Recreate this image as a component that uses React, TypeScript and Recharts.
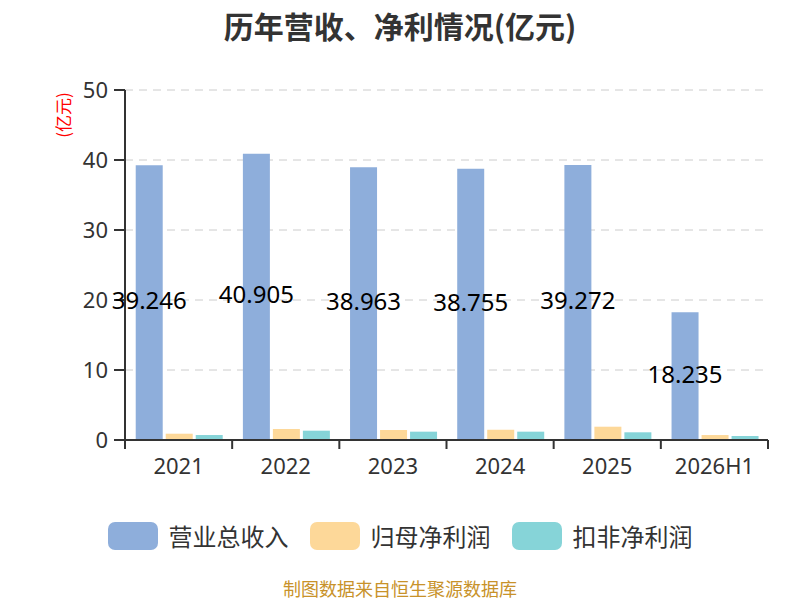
import { BarChart, Bar, XAxis, YAxis, CartesianGrid, Legend, LabelList } from 'recharts';

// ── Data ──────────────────────────────────────────────────────────────────────

const years = ['2021', '2022', '2023', '2024', '2025', '2026H1'];
const revenue = [39.246, 40.905, 38.963, 38.755, 39.272, 18.235];
const netProfit = [0.9, 1.57, 1.43, 1.48, 1.9, 0.71];
const deductedProfit = [0.71, 1.33, 1.19, 1.19, 1.1, 0.57];
const yTicks = [0, 10, 20, 30, 40, 50];

const seriesNames = ['营业总收入', '归母净利润', '扣非净利润'];
const seriesColors = ['#8eaedb', '#fdd899', '#86d4d8'];

const rows = years.map((y, i) => ({
  year: y,
  revenue: revenue[i],
  netProfit: netProfit[i],
  deductedProfit: deductedProfit[i],
}));

const FONT = '"Noto Sans", "Noto Sans CJK SC", sans-serif';
const CJK = '"Noto Sans CJK SC", sans-serif';

// ── Axis pieces ───────────────────────────────────────────────────────────────

function XTick(props: any) {
  const { x, y, payload, index } = props;
  const half = payload.offset ?? 0;
  const last = index === years.length - 1;
  return (
    <g>
      <line x1={x - half} y1={y - 8} x2={x - half} y2={y + 1} stroke="#333" strokeWidth={2} />
      {last && (
        <line x1={x + half} y1={y - 8} x2={x + half} y2={y + 1} stroke="#333" strokeWidth={2} />
      )}
      <text x={x} y={y + 26} textAnchor="middle" fontSize={22} fill="#333" fontFamily={FONT}>
        {payload.value}
      </text>
    </g>
  );
}

function UnitLabel(props: any) {
  const { viewBox } = props;
  const x = viewBox.x - 3;
  const y = viewBox.y + 25;
  return (
    <text
      x={x}
      y={y}
      transform={`rotate(-90 ${x} ${y})`}
      textAnchor="middle"
      dominantBaseline="central"
      fontSize={17}
      fill="#ff0000"
      fontFamily={CJK}
    >
      (亿元)
    </text>
  );
}

function LegendContent() {
  return (
    <div style={{ display: 'flex', justifyContent: 'center', fontFamily: CJK }}>
      {seriesNames.map((name, i) => (
        <div key={name} style={{ display: 'flex', alignItems: 'center', marginRight: i < 2 ? 21 : 0 }}>
          <div
            style={{
              width: 50,
              height: 28,
              borderRadius: 7,
              background: seriesColors[i],
              marginRight: 11,
            }}
          />
          <span style={{ fontSize: 24, color: '#333', lineHeight: '28px' }}>{name}</span>
        </div>
      ))}
    </div>
  );
}

// ── Chart ─────────────────────────────────────────────────────────────────────

export default function App() {
  return (
    <div
      style={{
        position: 'absolute',
        left: 0,
        top: 0,
        width: 800,
        height: 600,
        background: '#fff',
        fontFamily: CJK,
        overflow: 'hidden',
      }}
    >
      <div
        style={{
          position: 'absolute',
          top: 3,
          width: 800,
          textAlign: 'center',
          fontSize: 30,
          lineHeight: '44px',
          fontWeight: 'bold',
          color: '#333',
        }}
      >
        历年营收、净利情况(亿元)
      </div>

      <BarChart
        width={800}
        height={600}
        data={rows}
        margin={{ top: 90, right: 32, bottom: 130, left: 65 }}
        barCategoryGap="10%"
        barGap={3}
      >
        <CartesianGrid vertical={false} stroke="#ccc" strokeDasharray="8 6" />
        <XAxis
          dataKey="year"
          height={30}
          axisLine={{ stroke: '#333', strokeWidth: 2 }}
          tickLine={false}
          tick={<XTick />}
          interval={0}
        />
        <YAxis
          width={60}
          domain={[0, 50]}
          ticks={yTicks}
          axisLine={{ stroke: '#333', strokeWidth: 2 }}
          tickLine={{ stroke: '#333', strokeWidth: 2 }}
          tickSize={11}
          tickMargin={6}
          tick={{ fontSize: 22, fill: '#333', fontFamily: FONT }}
          label={<UnitLabel />}
        />
        <Legend
          layout="horizontal"
          verticalAlign="middle"
          align="center"
          content={<LegendContent />}
          wrapperStyle={{ position: 'absolute', top: 522, left: 0, width: 800 }}
        />
        <Bar dataKey="revenue" name={seriesNames[0]} fill={seriesColors[0]} isAnimationActive={false}>
          <LabelList
            dataKey="revenue"
            position="center"
            fill="#000"
            fontSize={24}
            fontFamily={FONT}
            dy={-2}
          />
        </Bar>
        <Bar dataKey="netProfit" name={seriesNames[1]} fill={seriesColors[1]} isAnimationActive={false} />
        <Bar
          dataKey="deductedProfit"
          name={seriesNames[2]}
          fill={seriesColors[2]}
          isAnimationActive={false}
        />
      </BarChart>

      <div
        style={{
          position: 'absolute',
          top: 578,
          width: 800,
          textAlign: 'center',
          fontSize: 18,
          lineHeight: '21px',
          color: '#c8922a',
        }}
      >
        制图数据来自恒生聚源数据库
      </div>
    </div>
  );
}
